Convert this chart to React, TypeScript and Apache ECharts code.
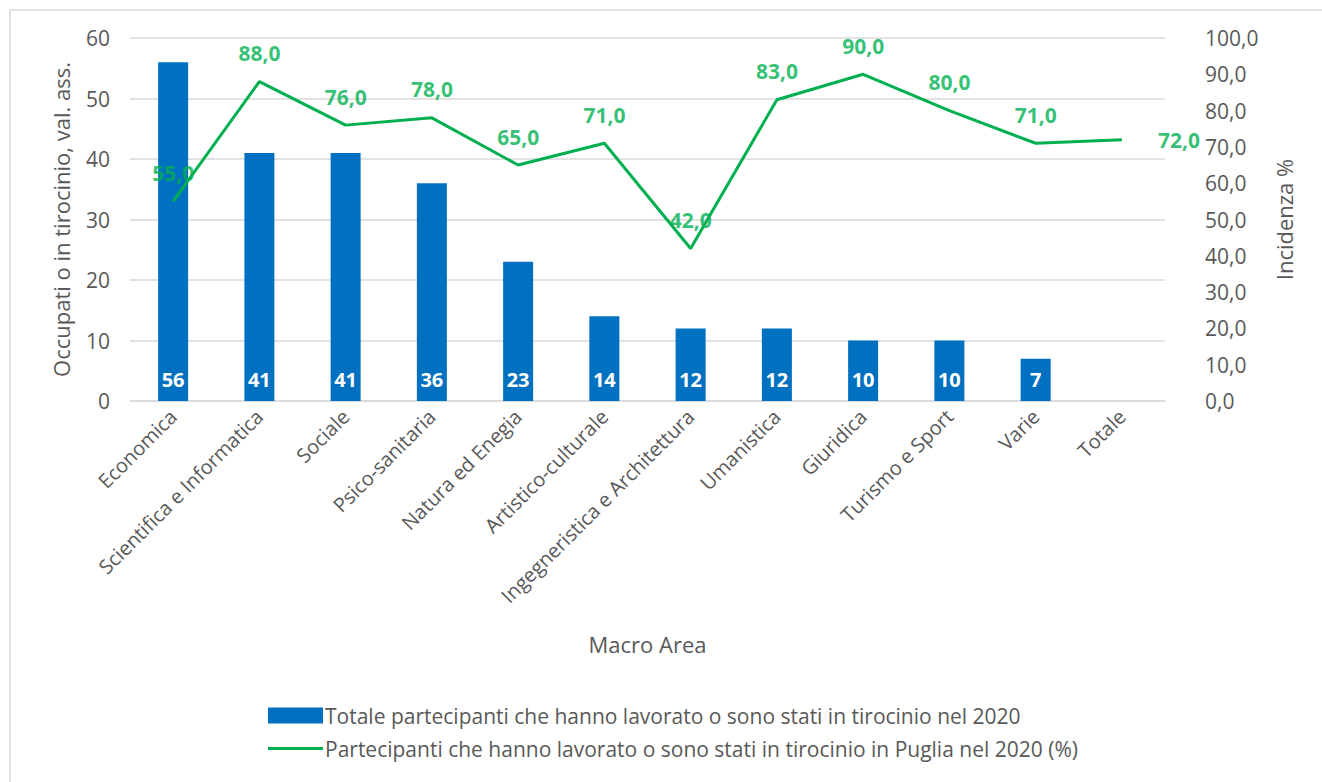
import React, { useEffect, useRef } from "react";
import * as echarts from "echarts";

const categories = [
  "Economica",
  "Scientifica e Informatica",
  "Sociale",
  "Psico-sanitaria",
  "Natura ed Enegia",
  "Artistico-culturale",
  "Ingegneristica e Architettura",
  "Umanistica",
  "Giuridica",
  "Turismo e Sport",
  "Varie",
  "Totale",
];
const barValues: (number | null)[] = [56, 41, 41, 36, 23, 14, 12, 12, 10, 10, 7, null];
const lineValues = [55, 88, 76, 78, 65, 71, 42, 83, 90, 80, 71, 72];
const barName = "Totale partecipanti che hanno lavorato o sono stati in tirocinio nel 2020";
const lineName = "Partecipanti che hanno lavorato o sono stati in tirocinio in Puglia nel 2020 (%)";

const FONT = "'Open Sans', 'Noto Sans', sans-serif";
const GRAY = "#595959";
const GREEN = "#00B050";
const fmt = (v: number) => v.toFixed(1).replace(".", ",");

export default function App() {
  const ref = useRef<HTMLDivElement>(null);
  useEffect(() => {
    if (!ref.current) return;
    const chart = echarts.init(ref.current, undefined, { renderer: "svg" });
    chart.setOption({
      animation: false,
      backgroundColor: "#ffffff",
      textStyle: { fontFamily: FONT },
      graphic: [
        {
          type: "rect",
          shape: { x: 10, y: 10, width: 1340, height: 800 },
          style: { fill: "none", stroke: "#d9d9d9", lineWidth: 1.5 },
          silent: true,
        },
      ],
      grid: { left: 130, right: 157, top: 38, bottom: 381 },
      legend: {
        orient: "vertical",
        left: 263,
        top: 700,
        itemGap: 12,
        itemWidth: 55,
        itemHeight: 16,
        textStyle: { color: GRAY, fontSize: 21, fontFamily: FONT, padding: [0, 0, 0, -3] },
        data: [
          { name: barName, icon: "rect" },
          {
            name: lineName,
            icon: "path://M0,0 M55,16 M0,6.5 L55,6.5 L55,9.5 L0,9.5 Z",
            itemStyle: { color: GREEN },
          },
        ],
      },
      xAxis: {
        type: "category",
        data: categories,
        name: "Macro Area",
        nameLocation: "middle",
        nameGap: 232,
        nameTextStyle: { color: GRAY, fontSize: 22, fontFamily: FONT },
        axisLine: { lineStyle: { color: "#d9d9d9", width: 1.5 } },
        axisTick: { show: false },
        axisLabel: { rotate: 45, color: GRAY, fontSize: 20, margin: 12, interval: 0, fontFamily: FONT },
      },
      yAxis: [
        {
          type: "value",
          min: 0,
          max: 60,
          interval: 10,
          name: "Occupati o in tirocinio, val. ass.",
          nameLocation: "middle",
          nameGap: 58,
          nameTextStyle: { color: GRAY, fontSize: 22, fontFamily: FONT },
          axisLabel: { color: GRAY, fontSize: 21, margin: 20, fontFamily: FONT },
          axisLine: { show: false },
          axisTick: { show: false },
          splitLine: { lineStyle: { color: "#d9d9d9", width: 1.5 } },
        },
        {
          type: "value",
          min: 0,
          max: 100,
          interval: 10,
          position: "right",
          name: "Incidenza %",
          nameLocation: "middle",
          nameGap: 108,
          nameTextStyle: { color: GRAY, fontSize: 22, fontFamily: FONT },
          axisLabel: { color: GRAY, fontSize: 21, margin: 40, formatter: (v: number) => fmt(v), fontFamily: FONT },
          axisLine: { show: false },
          axisTick: { show: false },
          splitLine: { show: false },
        },
      ],
      series: [
        {
          name: barName,
          type: "bar",
          data: barValues,
          barWidth: 30,
          itemStyle: { color: "#0070C0" },
          label: {
            show: true,
            position: "insideBottom",
            distance: 12,
            color: "#ffffff",
            fontWeight: "bold",
            fontSize: 20,
            fontFamily: FONT,
          },
        },
        {
          name: lineName,
          type: "line",
          yAxisIndex: 1,
          data: lineValues,
          symbol: "none",
          lineStyle: { color: GREEN, width: 3 },
          itemStyle: { color: GREEN },
        },
        {
          name: "labels",
          type: "scatter",
          yAxisIndex: 1,
          data: lineValues.map((v, i) =>
            i === lineValues.length - 1
              ? { value: v, label: { position: "right", distance: 36 } }
              : v
          ),
          symbolSize: 0,
          itemStyle: { color: GREEN },
          silent: true,
          label: {
            show: true,
            position: "top",
            distance: 18,
            color: GREEN,
            fontWeight: "bold",
            fontSize: 21,
            fontFamily: FONT,
            formatter: (p: any) => fmt(p.value as number),
          },
        },
      ],
    });
    return () => chart.dispose();
  }, []);
  return (
    <div
      ref={ref}
      style={{ position: "fixed", left: 0, top: 0, width: 1322, height: 782 }}
    />
  );
}
